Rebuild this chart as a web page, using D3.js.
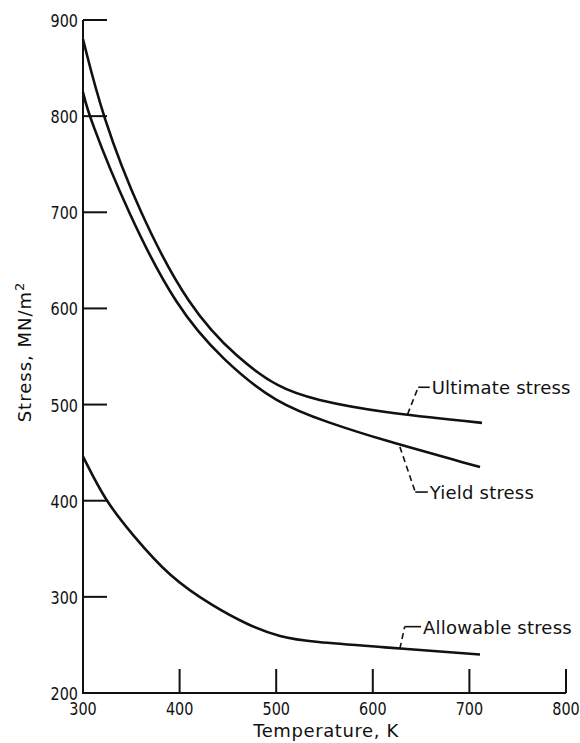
<!DOCTYPE html>
<html lang="en">
<head>
<meta charset="utf-8">
<script src="https://d3js.org/d3.v7.min.js"></script>
<style>
body { margin: 0; background: #fff; }
svg text { font-family: "DejaVu Sans", sans-serif; fill: #111; }
</style>
</head>
<body>
<svg id="chart"></svg>
<script>
var width = 580, height = 743;

// temperature (K), stress (MN/m^2)
var ultimate = [[300, 880], [320, 800], [358, 700], [410, 600], [460, 548], [503, 517],
                [540, 505], [607, 492], [713, 481]];
var yieldS = [[300, 825], [306, 800], [346, 700], [397, 600], [445, 546], [500, 501],
              [555, 481], [607, 464], [711, 435]];
var allowable = [[300, 446], [323, 400], [350, 366], [390, 320], [435, 290], [470, 271],
                 [504, 258], [538, 253], [607, 248], [711, 240]];

var xTicks = [300, 400, 500, 600, 700, 800];
var yTicks = [200, 300, 400, 500, 600, 700, 800, 900];

// callouts: point on curve, elbow, label start
var callouts = [
  {label: "Ultimate stress", pt: [636, 490], elbow: [647, 518], text: [661, 518]},
  {label: "Yield stress", pt: [628, 456], elbow: [644, 409], text: [659, 409]},
  {label: "Allowable stress", pt: [628, 246], elbow: [633, 269], text: [652, 269]}
];

var svg = d3.select("#chart").attr("width", width).attr("height", height);

var x = d3.scaleLinear().domain([300, 800]).range([83, 566]);
var y = d3.scaleLinear().domain([200, 900]).range([693, 20]);

var tickLen = 24;

// frame: left and bottom axis lines
svg.append("path")
    .attr("d", "M" + x(300) + "," + y(900) + "V" + y(200) + "H" + x(800))
    .attr("fill", "none").attr("stroke", "#111").attr("stroke-width", 2);

// inward ticks
svg.selectAll(".ytick").data(yTicks.filter(function(d) { return d > 200; }))
  .enter().append("line")
    .attr("x1", x(300)).attr("x2", x(300) + tickLen)
    .attr("y1", y).attr("y2", y)
    .attr("stroke", "#111").attr("stroke-width", 2);

svg.selectAll(".xtick").data(xTicks.filter(function(d) { return d > 300; }))
  .enter().append("line")
    .attr("x1", x).attr("x2", x)
    .attr("y1", y(200)).attr("y2", y(200) - tickLen)
    .attr("stroke", "#111").attr("stroke-width", 2);

// tick labels (narrow digits)
svg.selectAll(".ylab").data(yTicks).enter().append("text")
    .attr("transform", function(d) { return "translate(" + (x(300) - 5) + "," + (y(d) + 7) + ") scale(0.8,1)"; })
    .attr("text-anchor", "end").attr("font-size", 18)
    .text(function(d) { return d; });

svg.selectAll(".xlab").data(xTicks).enter().append("text")
    .attr("transform", function(d) { return "translate(" + x(d) + ",715) scale(0.8,1)"; })
    .attr("text-anchor", "middle").attr("font-size", 18)
    .text(function(d) { return d; });

svg.append("text")
    .attr("x", 326).attr("y", 737)
    .attr("text-anchor", "middle").attr("font-size", 18)
    .attr("letter-spacing", 0.6)
    .text("Temperature, K");

var yl = svg.append("text")
    .attr("transform", "translate(31,352) rotate(-90)")
    .attr("text-anchor", "middle").attr("font-size", 18)
    .attr("letter-spacing", 1);
yl.append("tspan").text("Stress, MN/m");
yl.append("tspan").attr("dy", -7).attr("font-size", 13).text("2");

// curves
var line = d3.line()
    .x(function(d) { return x(d[0]); })
    .y(function(d) { return y(d[1]); })
    .curve(d3.curveBasis);

[ultimate, yieldS, allowable].forEach(function(s) {
  svg.append("path").attr("d", line(s))
      .attr("fill", "none").attr("stroke", "#111").attr("stroke-width", 2.6);
});

// callout leaders and labels
callouts.forEach(function(c) {
  svg.append("path")
      .attr("d", "M" + x(c.pt[0]) + "," + y(c.pt[1]) + "L" + x(c.elbow[0]) + "," + y(c.elbow[1]))
      .attr("fill", "none").attr("stroke", "#111").attr("stroke-width", 1.6)
      .attr("stroke-dasharray", "6,4");
  svg.append("path")
      .attr("d", "M" + x(c.elbow[0]) + "," + y(c.elbow[1]) + "H" + (x(c.text[0]) - 2))
      .attr("fill", "none").attr("stroke", "#111").attr("stroke-width", 1.6);
  svg.append("text")
      .attr("x", x(c.text[0])).attr("y", y(c.text[1]) + 7)
      .attr("font-size", 18).attr("letter-spacing", 0.2)
      .text(c.label);
});
</script>
</body>
</html>
